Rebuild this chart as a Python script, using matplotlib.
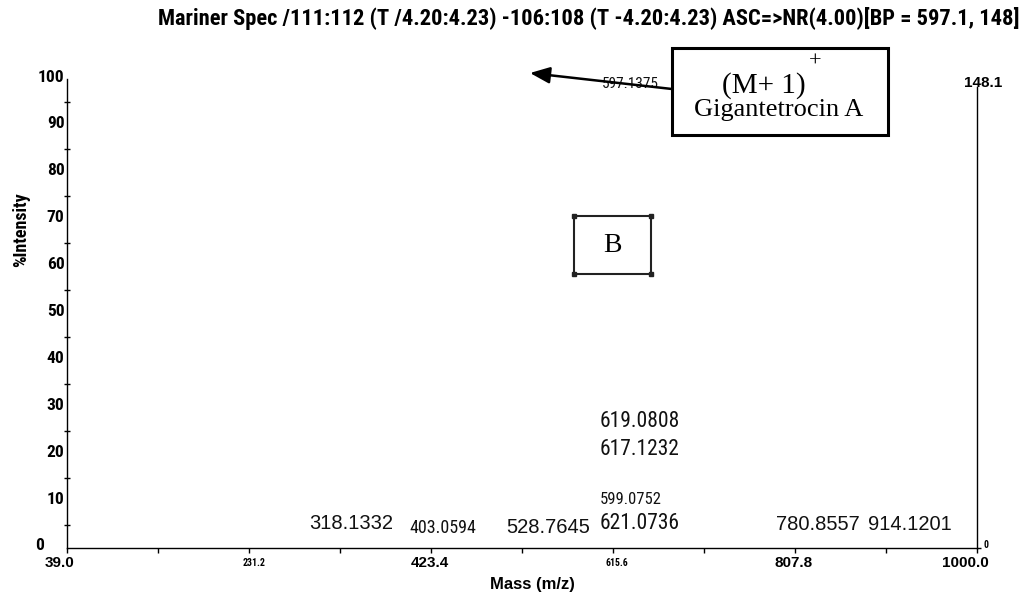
import os
import matplotlib
matplotlib.use("Agg")
import matplotlib.pyplot as plt
from matplotlib import font_manager as fm
from matplotlib.font_manager import FontProperties
from matplotlib.patches import Rectangle
from matplotlib.transforms import ScaledTranslation
from matplotlib.ticker import FixedLocator

# ---------------- data ----------------
title = "Mariner Spec /111:112 (T /4.20:4.23) -106:108 (T -4.20:4.23) ASC=>NR(4.00)[BP = 597.1, 148]"
x_min, x_max = 39.0, 1000.0
x_tick_values = [39.0, 231.2, 423.4, 615.6, 807.8, 1000.0]
x_tick_labels = ["39.0", "231.2", "423.4", "615.6", "807.8", "1000.0"]
y_tick_values = [0, 10, 20, 30, 40, 50, 60, 70, 80, 90, 100]
base_peak_counts = 148.1
peak_labels = ["318.1332", "403.0594", "528.7645", "621.0736", "599.0752",
               "619.0808", "617.1232", "780.8557", "914.1201", "597.1375"]
# label anchor positions (m/z, %intensity)
label_mz = [339.2, 436.2, 547.1, 644.2, 634.7, 644.2, 644.2, 832.3, 929.4, 633.9]
label_int = [5.3, 4.3, 4.3, 5.3, 10.4, 26.9, 21.1, 5.1, 5.1, 98.9]
annotation_lines = ["(M+ 1)", "+", "Gigantetrocin A"]
panel_label = "B"

# ---------------- fonts ----------------
REG = ["Liberation Sans", "DejaVu Sans"]
SERIF = ["Liberation Serif", "DejaVu Serif"]
_PREFS = ["Liberation Sans Narrow", "Arial Narrow", "Roboto Condensed",
          "Open Sans Condensed", "DejaVu Sans Condensed", "Noto Sans Condensed"]


def _narrow_candidates():
    out = []
    for f in fm.fontManager.ttflist:
        base = os.path.basename(f.fname)
        narrow = ("Narrow" in f.name or "Condensed" in f.name or "Cond" in base
                  or "Narrow" in base or str(f.stretch) in
                  ("condensed", "semi-condensed", "extra-condensed", "ultra-condensed"))
        if not narrow or f.style != "normal":
            continue
        w = f.weight if isinstance(f.weight, (int, float)) else fm.weight_dict.get(f.weight, 400)
        out.append((f.name, int(w), f.fname))
    return out


_CANDS = _narrow_candidates()


def _pick(bold):
    target = 700 if bold else 400
    best, best_key = None, None
    for nm, w, fn in _CANDS:
        pi = _PREFS.index(nm) if nm in _PREFS else len(_PREFS)
        key = (abs(w - target) > 150, pi, abs(w - target))
        if best_key is None or key < best_key:
            best, best_key = fn, key
    if best is not None and best_key[0]:
        return None
    return best


_NB, _NR = _pick(True), _pick(False)


def narrow(size, bold=False):
    fn = _NB if bold else _NR
    if fn:
        return FontProperties(fname=fn, size=size)
    return FontProperties(family=REG, weight="bold" if bold else "normal", size=size * 0.86)


W, H, DPI = 1024, 596, 100
fig = plt.figure(figsize=(W / DPI, H / DPI), dpi=DPI)
fig.patch.set_facecolor("white")

ax_left, ax_right = 66.7, 977.0
ax_top, ax_bot = 79.0, 548.0
ax = fig.add_axes([ax_left / W, 1 - ax_bot / H, (ax_right - ax_left) / W, (ax_bot - ax_top) / H])
ax.set_xlim(x_min, x_max)
ax.set_ylim(0, 100)
ax.patch.set_alpha(0)
ax.spines["top"].set_visible(False)
ax.spines["right"].set_visible(False)
for s in ["left", "bottom"]:
    ax.spines[s].set_linewidth(1.0)


def px(dx, dy):
    return ScaledTranslation(dx / DPI, dy / DPI, fig.dpi_scale_trans)


# x ticks
ax.set_xticks(x_tick_values)
ax.set_xticklabels(x_tick_labels)
minor_x = [(a + b) / 2 for a, b in zip(x_tick_values[:-1], x_tick_values[1:])]
ax.xaxis.set_minor_locator(FixedLocator(minor_x))
ax.tick_params(axis="x", which="both", direction="out", length=3.6, width=1.0, pad=7.2)
x_offsets = [-7, 5, -1, 4, -1, -12]
for i, lab in enumerate(ax.get_xticklabels()):
    lab.set_va("center")
    if x_tick_labels[i] in ("231.2", "615.6"):
        lab.set_fontproperties(narrow(7, True))
    else:
        lab.set_fontproperties(FontProperties(family=REG, weight="bold", size=11))
    lab.set_transform(lab.get_transform() + px(x_offsets[i], 0))

# y ticks
ax.set_yticks(y_tick_values)
ax.set_yticklabels([str(v) for v in y_tick_values])
ax.yaxis.set_minor_locator(FixedLocator([v + 5 for v in y_tick_values[:-1]]))
ax.tick_params(axis="y", which="major", length=0, pad=1.5)
ax.tick_params(axis="y", which="minor", direction="inout", length=5, width=1.0)
for i, lab in enumerate(ax.get_yticklabels()):
    lab.set_va("center")
    lab.set_fontproperties(narrow(12.5, True))
    dx = -21 if y_tick_values[i] == 0 else 0
    lab.set_transform(lab.get_transform() + px(dx, 2))

# right axis (absolute counts)
ax2 = ax.twinx()
ax2.set_ylim(0, base_peak_counts / 0.983)
for s in ["top", "left", "bottom"]:
    ax2.spines[s].set_visible(False)
ax2.spines["right"].set_linewidth(1.0)
ax2.spines["right"].set_bounds(0, base_peak_counts)
ax2.set_yticks([0, base_peak_counts])
ax2.set_yticklabels(["0", f"{base_peak_counts:.1f}"])
ax2.tick_params(axis="y", direction="out", length=3, width=1.0, pad=2)
ax2.yaxis.get_major_ticks()[1].tick2line.set_visible(False)
rl = ax2.get_yticklabels()
rl[0].set_fontproperties(narrow(7, True))
rl[0].set_va("center")
rl[0].set_transform(rl[0].get_transform() + px(0, 3))
rl[1].set_fontproperties(FontProperties(family=REG, weight="bold", size=11))
rl[1].set_va("center")
rl[1].set_transform(rl[1].get_transform() + px(-20, 4))

# peak labels
label_styles = [("r", 14.5), ("n", 13), ("r", 14.5), ("n", 15.5), ("n", 12),
                ("n", 15.5), ("n", 15.5), ("r", 14.5), ("r", 14.5), ("n", 11)]
for txt, mz, it, (kind, fs) in zip(peak_labels, label_mz, label_int, label_styles):
    fp = FontProperties(family=REG, size=fs) if kind == "r" else narrow(fs, False)
    ax.text(mz, it, txt, ha="center", va="center", fontproperties=fp, color="#111111")

# axis labels & title
fig.text(532 / W, 1 - 585 / H, "Mass (m/z)", ha="center", va="center",
         fontsize=12, fontweight="bold", family=REG)
fig.text(21 / W, 1 - 230 / H, "%Intensity", ha="center", va="center", rotation=90,
         fontproperties=narrow(13, True))
fig.text(1020 / W, 1 - 18 / H, title, ha="right", va="center",
         fontproperties=narrow(16.2, True))

# annotation box with arrow
bx0, bx1, by0, by1 = 672, 888, 48, 135
fig.add_artist(Rectangle((bx0 / W, 1 - by1 / H), (bx1 - bx0) / W, (by1 - by0) / H,
                         transform=fig.transFigure, fill=True, facecolor="white",
                         edgecolor="black", linewidth=2.2, zorder=5))
fig.text(806 / W, 1 - 86 / H, annotation_lines[0], ha="right", va="center",
         fontsize=21, family=SERIF, zorder=6)
fig.text(815 / W, 1 - 62 / H, annotation_lines[1], ha="center", va="center",
         fontsize=16, family=SERIF, zorder=6)
fig.text(779 / W, 1 - 110 / H, annotation_lines[2], ha="center", va="center",
         fontsize=19, family=SERIF, zorder=6)
ax.annotate("", xy=(530, H - 73), xycoords="figure pixels",
            xytext=(672, H - 89), textcoords="figure pixels",
            arrowprops=dict(arrowstyle="-|>,head_length=1.2,head_width=0.5",
                            mutation_scale=10, lw=1.8, color="black",
                            shrinkA=0, shrinkB=0))

# panel label box
qx0, qx1, qy0, qy1 = 574, 651, 216, 274
fig.add_artist(Rectangle((qx0 / W, 1 - qy1 / H), (qx1 - qx0) / W, (qy1 - qy0) / H,
                         transform=fig.transFigure, fill=False,
                         edgecolor="#222222", linewidth=1.5))
fig.add_artist(plt.Line2D([qx0 / W, qx1 / W, qx0 / W, qx1 / W],
                          [1 - qy0 / H, 1 - qy0 / H, 1 - qy1 / H, 1 - qy1 / H],
                          transform=fig.transFigure, linestyle="none", marker="s",
                          markersize=2.5, color="#222222"))
fig.text(612 / W, 1 - 245 / H, panel_label, ha="center", va="center",
         fontsize=20, family=SERIF)

fig.savefig("out.png", dpi=DPI)
